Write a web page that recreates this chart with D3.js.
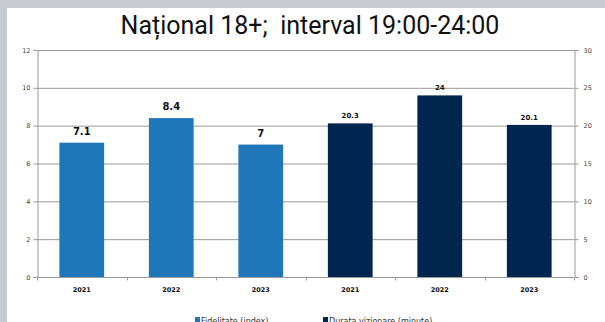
<!DOCTYPE html>
<html>
<head>
<meta charset="utf-8">
<script src="https://cdn.jsdelivr.net/npm/d3@7"></script>
<style>
  body { margin: 0; background: #c8ccd1; }
  svg { display: block; }
</style>
</head>
<body>
<svg id="chart" width="605" height="322"></svg>
<script>
// date
const years = ["2021", "2022", "2023"];
const fidelitate = [7.1, 8.4, 7];        // axa stanga
const durata = [20.3, 24, 20.1];         // axa dreapta
const leftTicks = [0, 2, 4, 6, 8, 10, 12];
const rightTicks = [0, 5, 10, 15, 20, 25, 30];
const seriesNames = ["Fidelitate (index)", "Durata vizionare (minute)"];
const colors = ["#1f77b9", "#00264f"];

const svg = d3.select("#chart");

// panou alb
svg.append("rect").attr("x", 7).attr("y", 8).attr("width", 598).attr("height", 314).attr("fill", "#fff");

svg.append("text")
  .attr("x", 310).attr("y", 34)
  .attr("text-anchor", "middle")
  .style("font-family", "Roboto")
  .style("font-size", "25px")
  .style("white-space", "pre")
  .attr("fill", "#111")
  .text("Național 18+;  interval 19:00-24:00");

const plotL = 37, plotR = 574, plotT = 50, plotB = 277;

// toate barele intr-un singur tabel
const bars = years.map((y, i) => ({ key: "f" + y, year: y, v: fidelitate[i], s: 0 }))
  .concat(years.map((y, i) => ({ key: "d" + y, year: y, v: durata[i], s: 1 })));

const x = d3.scaleBand().domain(bars.map(d => d.key)).range([plotL, plotR])
  .paddingInner(0.5).paddingOuter(0.25);
const yL = d3.scaleLinear().domain([0, 12]).range([plotB, plotT]);
const yR = d3.scaleLinear().domain([0, 30]).range([plotB, plotT]);

// grila
svg.append("g").selectAll("line").data(leftTicks.slice(1)).join("line")
  .attr("x1", plotL).attr("x2", plotR)
  .attr("y1", d => yL(d) + 0.5).attr("y2", d => yL(d) + 0.5)
  .attr("stroke", "#9a9a9a").attr("stroke-width", 1);

// axa stanga
const gl = svg.append("g").attr("transform", `translate(${plotL + 0.5},0)`)
  .call(d3.axisLeft(yL).tickValues(leftTicks).tickSize(4).tickPadding(3));
// axa dreapta
const gr = svg.append("g").attr("transform", `translate(${plotR + 0.5},0)`)
  .call(d3.axisRight(yR).tickValues(rightTicks).tickSize(4).tickPadding(5));

[gl, gr].forEach(g => {
  g.select(".domain").attr("stroke", "#9a9a9a");
  g.selectAll(".tick line").attr("stroke", "#9a9a9a");
  g.selectAll(".tick text")
    .attr("fill", "#444")
    .style("font-family", "DejaVu Sans")
    .style("font-size", "6.5px");
});

// axa x
const step = x.step();
const gx = svg.append("g").attr("transform", `translate(0,${plotB + 0.5})`);
gx.append("line").attr("x1", plotL).attr("x2", plotR).attr("stroke", "#9a9a9a");
gx.selectAll("line.t").data(d3.range(bars.length + 1)).join("line").attr("class", "t")
  .attr("x1", i => Math.round(plotL + i * step) + 0.5).attr("x2", i => Math.round(plotL + i * step) + 0.5)
  .attr("y1", 0).attr("y2", 3).attr("stroke", "#9a9a9a");
gx.selectAll("text").data(bars).join("text")
  .attr("x", d => x(d.key) + x.bandwidth() / 2).attr("y", 14)
  .attr("text-anchor", "middle")
  .style("font-family", "DejaVu Sans").style("font-weight", "bold").style("font-size", "6.5px")
  .attr("fill", "#111")
  .text(d => d.year);

// bare
const yOf = d => d.s === 0 ? yL(d.v) : yR(d.v);
svg.append("g").selectAll("rect").data(bars).join("rect")
  .attr("x", d => x(d.key)).attr("width", x.bandwidth())
  .attr("y", yOf).attr("height", d => plotB - yOf(d))
  .attr("fill", d => colors[d.s]);

// etichete valori
svg.append("g").selectAll("text").data(bars).join("text")
  .attr("x", d => x(d.key) + x.bandwidth() / 2)
  .attr("y", d => yOf(d) - (d.s === 0 ? 8 : 5))
  .attr("text-anchor", "middle")
  .style("font-family", "DejaVu Sans").style("font-weight", "bold")
  .style("font-size", d => d.s === 0 ? "10px" : "7px")
  .attr("fill", "#111")
  .text(d => d.v);

// legenda (taiata jos, ca in original)
const legX = [195, 323];
const lg = svg.append("g").selectAll("g").data(seriesNames).join("g")
  .attr("transform", (d, i) => `translate(${legX[i]},317)`);
lg.append("rect").attr("width", 5).attr("height", 5).attr("fill", (d, i) => colors[i]);
lg.append("text").attr("x", 6).attr("y", 6.5)
  .style("font-family", "DejaVu Sans").style("font-size", "8px")
  .attr("fill", "#333")
  .text(d => d);
</script>
</body>
</html>
